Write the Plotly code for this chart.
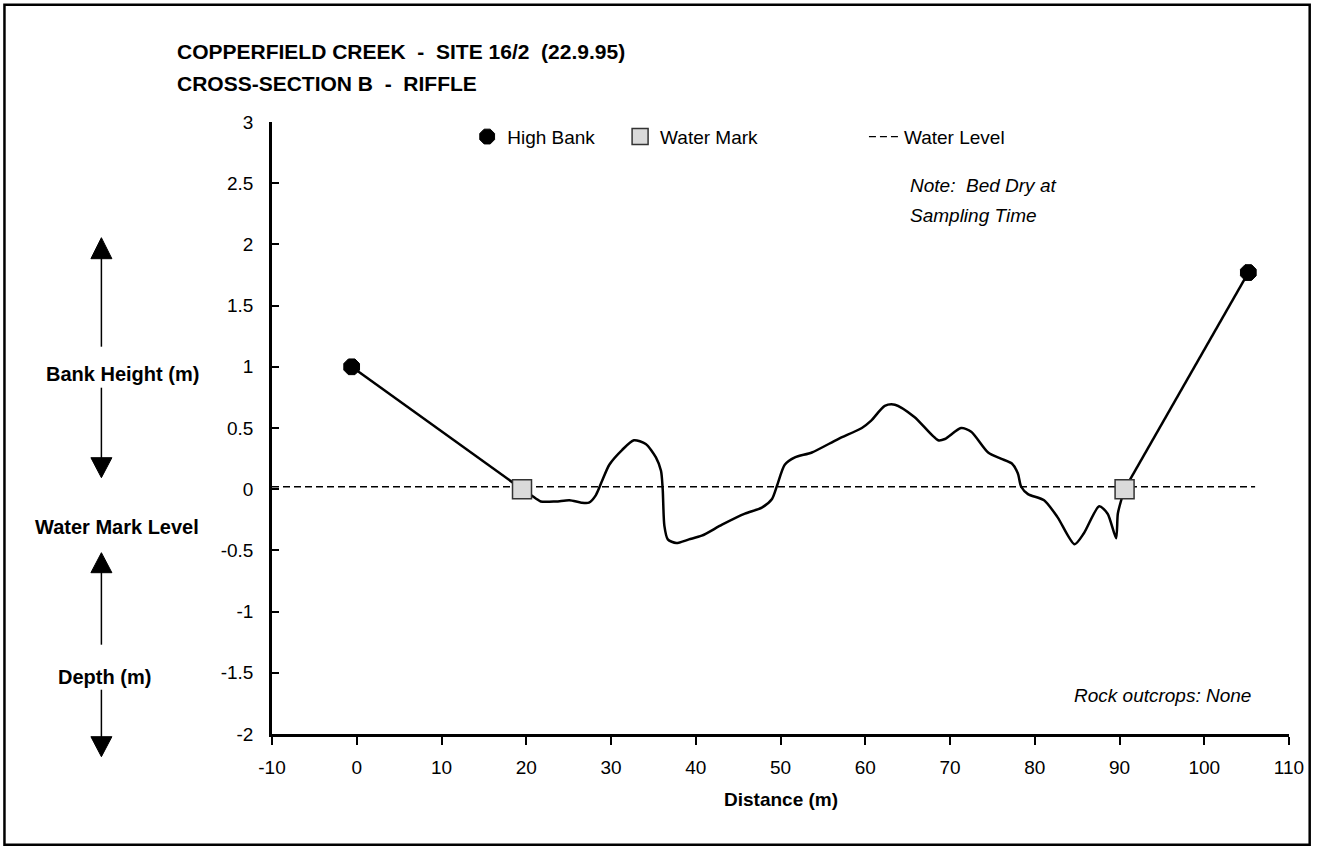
import plotly.graph_objects as go

# ---- survey data: Copperfield Creek, site 16/2, cross-section B ----
high_bank_x = [-0.6, 105.2]
high_bank_y = [1.0, 1.77]

water_mark_x = [19.5, 90.6]
water_mark_y = [0.0, 0.0]

water_level_x = [-10, 106]
water_level_y = [0.02, 0.02]

# bed profile between the two water marks (distance m, height m)
bed_x = [19.5, 20.6, 21.7, 23.5, 25.1, 26.5, 27.4, 28.2, 28.9, 29.8, 31.3, 32.7,
         34.1, 35.3, 35.9, 36.1, 36.3, 36.7, 37.7, 39.2, 40.7, 43.1, 45.8, 47.8,
         49.0, 49.6, 50.5, 51.7, 53.7, 56.8, 59.6, 60.7, 62.3, 63.5, 65.8, 68.6,
         69.4, 71.3, 72.5, 74.5, 76.0, 77.3, 78.0, 78.4, 79.2, 81.1, 82.7, 84.7,
         85.8, 87.6, 88.6, 89.6, 89.8, 90.2, 90.6]
bed_y = [0.0, -0.05, -0.10, -0.10, -0.09, -0.11, -0.11, -0.05, 0.06, 0.20, 0.32, 0.40,
         0.37, 0.26, 0.15, 0.0, -0.30, -0.41, -0.44, -0.41, -0.38, -0.29, -0.20, -0.15,
         -0.08, 0.03, 0.20, 0.26, 0.30, 0.41, 0.50, 0.56, 0.68, 0.69, 0.59, 0.40,
         0.41, 0.50, 0.47, 0.30, 0.25, 0.21, 0.13, 0.02, -0.04, -0.09, -0.23, -0.45,
         -0.36, -0.14, -0.20, -0.40, -0.20, -0.09, 0.0]

x_ticks = list(range(-10, 111, 10))
x_tick_text = ["-10", "0", "10", "20", "30", "40", "50", "60", "70", "80", "90", "100", "110"]
y_ticks = [3, 2.5, 2, 1.5, 1, 0.5, 0, -0.5, -1, -1.5, -2]
y_tick_text = ["3", "2.5", "2", "1.5", "1", "0.5", "0", "-0.5", "-1", "-1.5", "-2"]

# ---- page geometry (pixels) ----
W, H = 1318, 856
PL, PR, PT, PB = 271.7, 1289.3, 122.3, 734.3


def px(xp):
    return (xp - PL) / (PR - PL)


def py(yp):
    return (PB - yp) / (PB - PT)


FONT = "Arial, Liberation Sans, sans-serif"

fig = go.Figure()

# bank slopes (straight) and smoothed bed
fig.add_trace(go.Scatter(x=[high_bank_x[0], water_mark_x[0]], y=[high_bank_y[0], water_mark_y[0]],
                         mode="lines", line=dict(color="black", width=2.5), showlegend=False,
                         hoverinfo="skip"))
fig.add_trace(go.Scatter(x=[water_mark_x[1], high_bank_x[1]], y=[water_mark_y[1], high_bank_y[1]],
                         mode="lines", line=dict(color="black", width=2.5), showlegend=False,
                         hoverinfo="skip"))
fig.add_trace(go.Scatter(x=bed_x, y=bed_y, mode="lines",
                         line=dict(color="black", width=2.5, shape="spline", smoothing=0.7),
                         showlegend=False))

# water level
fig.add_trace(go.Scatter(x=water_level_x, y=water_level_y, mode="lines", name="Water Level",
                         line=dict(color="black", width=1.3, dash="7px,4px"), legend="legend3"))

# markers
fig.add_trace(go.Scatter(x=high_bank_x, y=high_bank_y, mode="markers", name="High Bank",
                         marker=dict(symbol="octagon", size=17, color="black",
                                     line=dict(color="black", width=1)),
                         legend="legend"))
fig.add_trace(go.Scatter(x=water_mark_x, y=water_mark_y, mode="markers", name="Water Mark",
                         marker=dict(symbol="square", size=19, color="#dadada",
                                     line=dict(color="#333333", width=1.5)),
                         legend="legend2"))

legend_font = dict(family=FONT, size=19, color="black")
leg_y = py(137)


def legend_at(xpix):
    return dict(x=px(xpix), y=leg_y, xanchor="left", yanchor="middle", orientation="h",
                bgcolor="rgba(0,0,0,0)", borderwidth=0, font=legend_font)


annotations = []


def label(text, xpix, ypix, size=19, bold=False, italic=False, xanchor="left"):
    t = text
    if bold:
        t = "<b>" + t + "</b>"
    if italic:
        t = "<i>" + t + "</i>"
    annotations.append(dict(text=t, x=px(xpix), y=py(ypix), xref="paper", yref="paper",
                            xanchor=xanchor, yanchor="middle", showarrow=False,
                            font=dict(family=FONT, size=size, color="black")))


# titles
label("COPPERFIELD CREEK  -  SITE 16/2  (22.9.95)", 175, 52, size=21, bold=True)
label("CROSS-SECTION B  -  RIFFLE", 175, 84, size=21, bold=True)

# notes
label("Note:  Bed Dry at", 908, 186, size=19, italic=True)
label("Sampling Time", 908, 216, size=19, italic=True)
label("Rock outcrops: None", 1253, 696, size=19, italic=True, xanchor="right")

# side labels
label("Bank Height (m)", 122, 374, size=20, bold=True, xanchor="center")
label("Water Mark Level", 117, 527, size=20, bold=True, xanchor="center")
label("Depth (m)", 104, 677, size=20, bold=True, xanchor="center")

# x-axis title
label("Distance (m)", 781, 800, size=19, bold=True, xanchor="center")

shapes = []


def vline(xpix, y0, y1):
    shapes.append(dict(type="line", xref="paper", yref="paper", x0=px(xpix), x1=px(xpix),
                       y0=py(y0), y1=py(y1), line=dict(color="black", width=1.5)))


def head(xpix, tip, base):
    hw = 10.5
    path = "M {} {} L {} {} L {} {} Z".format(px(xpix), py(tip), px(xpix - hw), py(base),
                                               px(xpix + hw), py(base))
    shapes.append(dict(type="path", xref="paper", yref="paper", path=path,
                       fillcolor="black", line=dict(color="black", width=1)))


AX = 101
vline(AX, 258, 347)
head(AX, 238, 259)
vline(AX, 388, 459)
head(AX, 478, 458)
vline(AX, 572, 645)
head(AX, 553, 573)
vline(AX, 690, 738)
head(AX, 757, 737)

# outer frame
shapes.append(dict(type="rect", xref="paper", yref="paper", x0=px(4), x1=px(1310),
                   y0=py(845), y1=py(5), line=dict(color="black", width=2.5),
                   fillcolor="rgba(0,0,0,0)"))

fig.update_layout(
    width=W, height=H,
    margin=dict(l=272, r=29, t=122, b=122),
    paper_bgcolor="white", plot_bgcolor="white",
    font=dict(family=FONT, size=19, color="black"),
    showlegend=True,
    legend=legend_at(467),
    legend2=legend_at(620),
    legend3=legend_at(864),
    annotations=annotations,
    shapes=shapes,
    xaxis=dict(range=[-10, 110], tickvals=x_ticks, ticktext=x_tick_text, showgrid=False,
               zeroline=False, showline=True, linecolor="black", linewidth=2.5,
               ticks="outside", ticklen=8, tickwidth=2, tickcolor="black",
               tickfont=dict(family=FONT, size=19, color="black"), ticklabelstandoff=6),
    yaxis=dict(range=[-2, 3], tickvals=y_ticks, ticktext=y_tick_text, showgrid=False,
               zeroline=False, showline=True, linecolor="black", linewidth=2.5,
               ticks="inside", ticklen=7, tickwidth=2, tickcolor="black",
               tickfont=dict(family=FONT, size=19, color="black"), ticklabelstandoff=12),
)

fig.write_html("out.html")
